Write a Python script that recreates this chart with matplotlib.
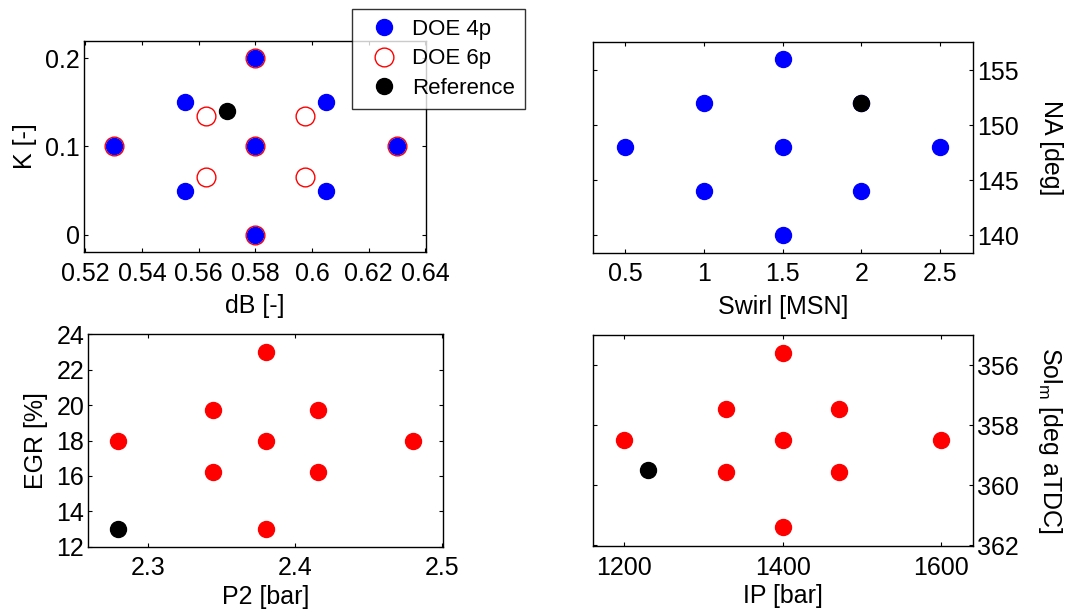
import matplotlib
matplotlib.use("Agg")
import matplotlib.pyplot as plt
from matplotlib.ticker import FuncFormatter

plt.rcParams['font.family'] = ['Liberation Sans', 'DejaVu Sans']
plt.rcParams['mathtext.fontset'] = 'custom'
plt.rcParams['mathtext.rm'] = 'Liberation Sans'
plt.rcParams['mathtext.it'] = 'Liberation Sans'

# dB / K design
db_4p = [0.53, 0.555, 0.555, 0.58, 0.58, 0.58, 0.605, 0.605, 0.63]
k_4p = [0.1, 0.15, 0.05, 0.2, 0.1, 0.0, 0.15, 0.05, 0.1]
db_6p = [0.53, 0.5625, 0.5625, 0.58, 0.58, 0.58, 0.5975, 0.5975, 0.63]
k_6p = [0.1, 0.135, 0.065, 0.2, 0.1, 0.0, 0.135, 0.065, 0.1]
db_ref, k_ref = 0.57, 0.14

# swirl / nozzle angle
swirl = [0.5, 1.0, 1.0, 1.5, 1.5, 1.5, 2.0, 2.0, 2.5]
na = [148, 152, 144, 156, 148, 140, 152, 144, 148]
swirl_ref, na_ref = 2.0, 152

# P2 / EGR
p2 = [2.28, 2.3445, 2.3445, 2.38, 2.38, 2.38, 2.4155, 2.4155, 2.48]
egr = [18, 19.75, 16.2, 23, 18, 13, 19.75, 16.2, 18]
p2_ref, egr_ref = 2.28, 13

# injection pressure / start of injection
ip = [1200, 1329, 1329, 1400, 1400, 1400, 1471, 1471, 1600]
soi = [358.5, 357.45, 359.55, 355.6, 358.5, 361.4, 357.45, 359.55, 358.5]
ip_ref, soi_ref = 1230, 359.5

W, H = 1080, 614
fig = plt.figure(figsize=(W / 100, H / 100), dpi=100)

def px_axes(l, t, r, b):
    return fig.add_axes([l / W, 1 - b / H, (r - l) / W, (b - t) / H])

ax1 = px_axes(84, 40.7, 425.7, 252.3)
ax2 = px_axes(592.7, 42, 973.3, 252.7)
ax3 = px_axes(88.3, 334.3, 443.3, 546.7)
ax4 = px_axes(592.7, 335, 973.3, 546)

ms = 11.5
fs = 18
gfmt = FuncFormatter(lambda v, p: '%g' % v)

for ax in (ax1, ax2, ax3, ax4):
    ax.tick_params(direction='in', top=True, right=True, left=True, bottom=True,
                   length=3, width=0.8, labelsize=fs)
    ax.tick_params(axis='x', pad=7)
    ax.tick_params(axis='y', pad=3)
    for s in ax.spines.values():
        s.set_linewidth(1.0)
    ax.xaxis.set_major_formatter(gfmt)
    ax.yaxis.set_major_formatter(gfmt)

# top left
ax1.plot(db_6p, k_6p, 'o', ms=ms + 2, mfc='none', mec='red', mew=1.0, label='DOE 6p', zorder=2)
ax1.plot(db_4p, k_4p, 'o', ms=ms, color='blue', mec='blue', label='DOE 4p', zorder=3)
ax1.plot(db_ref, k_ref, 'o', ms=ms, color='black', label='Reference', zorder=3)
ax1.set_xlim(0.5195, 0.6401)
ax1.set_ylim(-0.02, 0.22)
ax1.set_xticks([0.52, 0.54, 0.56, 0.58, 0.6, 0.62, 0.64])
ax1.set_yticks([0, 0.1, 0.2])
ax1.set_xlabel('dB [-]', fontsize=fs, labelpad=6)
ax1.set_ylabel('K [-]', fontsize=fs, labelpad=6)

# top right
ax2.plot(swirl, na, 'o', ms=ms, color='blue')
ax2.plot(swirl_ref, na_ref, 'o', ms=ms, color='black')
ax2.set_xlim(0.295, 2.71)
ax2.set_ylim(138.4, 157.55)
ax2.set_xticks([0.5, 1, 1.5, 2, 2.5])
ax2.set_yticks([140, 145, 150, 155])
ax2.yaxis.tick_right()
ax2.tick_params(left=True, labelleft=False, labelright=True)
ax2.yaxis.set_label_position('right')
ax2.set_xlabel('Swirl [MSN]', fontsize=fs, labelpad=6)
ax2.set_ylabel('NA [deg]', fontsize=fs, rotation=270, va='bottom', labelpad=14)

# bottom left
ax3.plot(p2, egr, 'o', ms=ms, color='red')
ax3.plot(p2_ref, egr_ref, 'o', ms=ms, color='black')
ax3.set_xlim(2.2597, 2.5007)
ax3.set_ylim(12, 24)
ax3.set_xticks([2.3, 2.4, 2.5])
ax3.set_yticks([12, 14, 16, 18, 20, 22, 24])
ax3.set_xlabel('P2 [bar]', fontsize=fs, labelpad=3)
ax3.set_ylabel('EGR [%]', fontsize=fs, labelpad=6)

# bottom right
ax4.plot(ip, soi, 'o', ms=ms, color='red')
ax4.plot(ip_ref, soi_ref, 'o', ms=ms, color='black')
ax4.set_xlim(1160, 1641)
ax4.set_ylim(362.03, 355.0)
ax4.set_xticks([1200, 1400, 1600])
ax4.set_yticks([356, 358, 360, 362])
ax4.yaxis.tick_right()
ax4.tick_params(left=True, labelleft=False, labelright=True)
ax4.yaxis.set_label_position('right')
ax4.set_xlabel('IP [bar]', fontsize=fs, labelpad=3)
ax4.set_ylabel(r'Sol$_{\mathrm{m}}$ [deg aTDC]', fontsize=fs, rotation=270, va='bottom', labelpad=12)

h, l = ax1.get_legend_handles_labels()
order = [1, 0, 2]
leg = fig.legend([h[i] for i in order], [l[i] for i in order],
                 loc='upper left', bbox_to_anchor=(351.7 / W, 1 - 9 / H),
                 borderaxespad=0, fancybox=False, edgecolor='black',
                 fontsize=16, handletextpad=0.25, borderpad=0.45, labelspacing=0.38,
                 handlelength=2.0)
leg.get_frame().set_linewidth(1.0)

fig.savefig('out.png', dpi=100)
